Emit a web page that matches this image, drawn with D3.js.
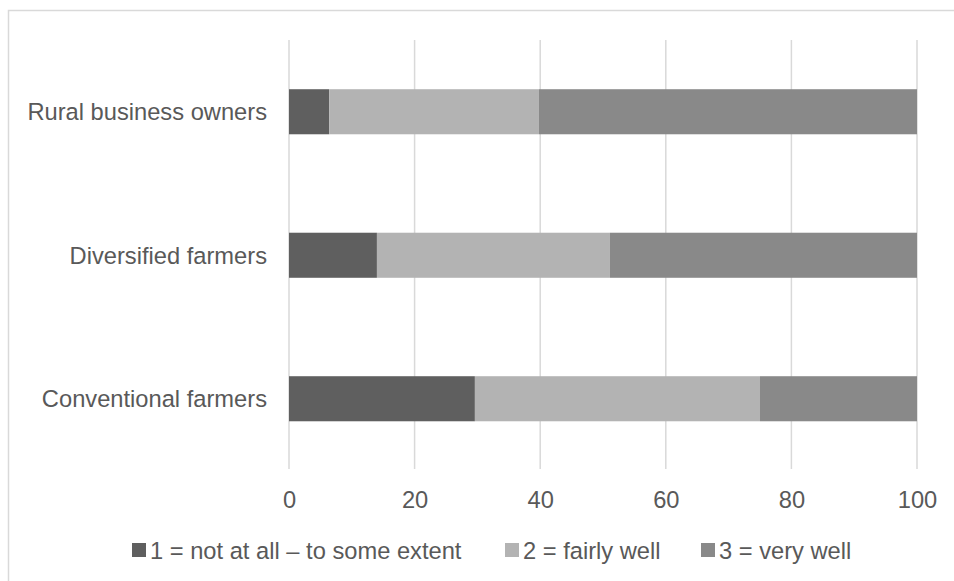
<!DOCTYPE html>
<html>
<head>
<meta charset="utf-8">
<script src="https://cdn.jsdelivr.net/npm/d3@7"></script>
<style>
  html, body { margin: 0; padding: 0; background: #ffffff; }
  svg { display: block; }
  text { font-family: "Liberation Sans", Arial, sans-serif; fill: #595959; }
</style>
</head>
<body>
<svg id="chart" width="954" height="581"></svg>
<script>
const categories = ["Rural business owners", "Diversified farmers", "Conventional farmers"];
const seriesNames = ["1 = not at all \u2013 to some extent", "2 = fairly well", "3 = very well"];
const notAtAll = [6.4, 14.0, 29.6];
const fairlyWell = [33.4, 37.1, 45.4];
const veryWell = [60.2, 48.9, 25.0];
const xTicks = [0, 20, 40, 60, 80, 100];
const colors = ["#5f5f5f", "#b3b3b3", "#898989"];

const svg = d3.select("#chart");
const FS = "23.7px";

// outer chart border (extends beyond right and bottom edges)
svg.append("rect")
  .attr("x", 8.5).attr("y", 10.5)
  .attr("width", 980).attr("height", 620)
  .attr("fill", "#ffffff")
  .attr("stroke", "#d9d9d9").attr("stroke-width", 1.5);

const x = d3.scaleLinear().domain([0, 100]).range([289, 917]);
const y = d3.scaleBand().domain(categories).range([40, 470.5])
  .paddingInner(0.686).paddingOuter(0.343);

// gridlines
svg.append("g").selectAll("line").data(xTicks).join("line")
  .attr("x1", d => x(d)).attr("x2", d => x(d))
  .attr("y1", 40).attr("y2", 469)
  .attr("stroke", "#d9d9d9").attr("stroke-width", 1.5);

// stacked data
const rows = categories.map((c, i) => ({ cat: c, s0: notAtAll[i], s1: fairlyWell[i], s2: veryWell[i] }));
const stack = d3.stack().keys(["s0", "s1", "s2"]);
const layers = stack(rows);

svg.append("g").selectAll("g").data(layers).join("g")
  .attr("fill", (d, i) => colors[i])
  .selectAll("rect").data(d => d).join("rect")
  .attr("x", d => x(d[0]))
  .attr("width", d => x(d[1]) - x(d[0]))
  .attr("y", d => y(d.data.cat))
  .attr("height", y.bandwidth());

// x axis tick labels
const xAxis = d3.axisBottom(x).tickValues(xTicks).tickSize(0).tickPadding(0);
const gx = svg.append("g").attr("transform", "translate(0,491)").call(xAxis);
gx.select(".domain").remove();
gx.selectAll("text")
  .attr("dy", "0.71em")
  .style("font-size", FS)
  .style("font-family", "'Liberation Sans', Arial, sans-serif")
  .attr("fill", "#595959");

// y axis labels
const yAxis = d3.axisLeft(y).tickSize(0).tickPadding(0);
const gy = svg.append("g").attr("transform", "translate(267,0)").call(yAxis);
gy.select(".domain").remove();
gy.selectAll("text")
  .attr("dy", "0.35em")
  .style("font-size", FS)
  .style("font-family", "'Liberation Sans', Arial, sans-serif")
  .attr("fill", "#595959");

// legend
const legendX = [132, 505, 701];
const leg = svg.append("g");
seriesNames.forEach((name, i) => {
  leg.append("rect")
    .attr("x", legendX[i]).attr("y", 543)
    .attr("width", 14).attr("height", 14)
    .attr("fill", colors[i]);
  leg.append("text")
    .attr("x", legendX[i] + 18).attr("y", 558.5)
    .style("font-size", FS)
    .text(name);
});
</script>
</body>
</html>
